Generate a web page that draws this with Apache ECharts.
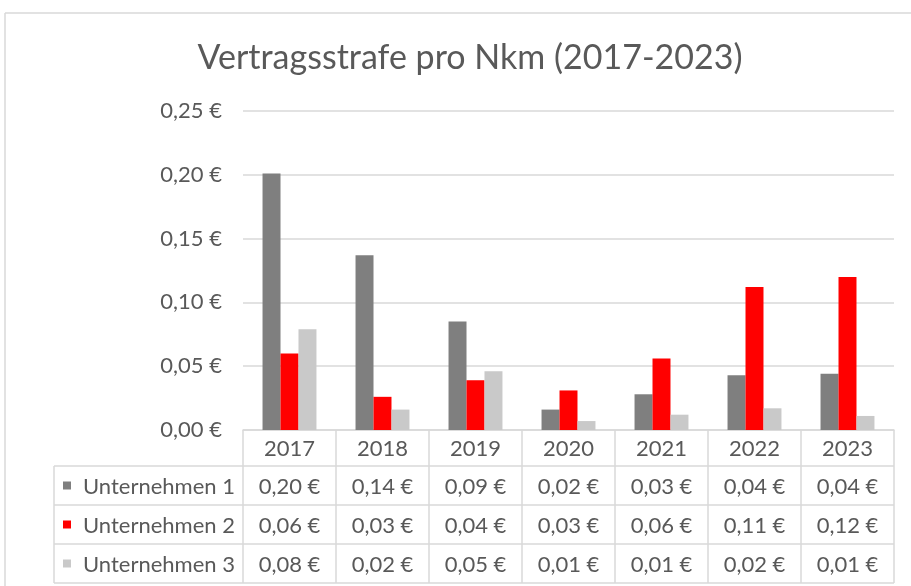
<!DOCTYPE html>
<html>
<head>
<meta charset="utf-8">
<script src="https://cdn.jsdelivr.net/npm/echarts@6/dist/echarts.min.js"></script>
<style>
    html, body {margin: 0; padding: 0; background: #fff;}
    #main {width: 911px; height: 586px;}
</style>
</head>
<body>
<div id="main"></div>
<script>
// data
const years = ['2017', '2018', '2019', '2020', '2021', '2022', '2023'];
const names = ['Unternehmen 1', 'Unternehmen 2', 'Unternehmen 3'];
const u1 = [0.201, 0.137, 0.085, 0.016, 0.028, 0.043, 0.044];
const u2 = [0.060, 0.026, 0.039, 0.031, 0.056, 0.112, 0.120];
const u3 = [0.079, 0.016, 0.046, 0.007, 0.012, 0.017, 0.011];
const colors = ['#7f7f7f', '#ff0000', '#c9c9c9'];

const FONT = 'Lato, "Liberation Sans", sans-serif';
const TXT = '#595959';
const LINE = '#d9d9d9';

const euro = v => v.toFixed(2).replace('.', ',') + ' €';

let chart = echarts.init(document.getElementById('main'));

const seriesData = [u1, u2, u3];

chart.setOption({
    animation: false,
    title: {
        text: 'Vertragsstrafe pro Nkm (2017-2023)', left: 465, top: 36, textAlign: 'center',
        textStyle: {fontFamily: FONT, fontSize: 34, fontWeight: 'normal', color: TXT}
    },
    grid: {left: 243, right: 17, top: 111, bottom: 156},
    xAxis: {
        type: 'category', data: years,
        axisLine: {lineStyle: {color: LINE, width: 1.5}},
        axisTick: {show: false},
        axisLabel: {show: false}
    },
    yAxis: {
        type: 'value', min: 0, max: 0.25, interval: 0.05,
        axisLine: {show: false}, axisTick: {show: false},
        splitLine: {lineStyle: {color: LINE, width: 1.5}},
        axisLabel: {
            formatter: euro, margin: 21,
            fontFamily: FONT, fontSize: 22, color: TXT
        }
    },
    series: names.map((n, i) => ({
        name: n, type: 'bar', data: seriesData[i],
        barGap: 0, barCategoryGap: '42%',
        itemStyle: {color: colors[i]}
    }))
});

// data table below the plot, drawn from the same arrays
function drawTable() {
    const half = (chart.convertToPixel({xAxisIndex: 0}, years[1]) - chart.convertToPixel({xAxisIndex: 0}, years[0])) / 2;
    const x0 = chart.convertToPixel({xAxisIndex: 0}, years[0]) - half;
    const xEnd = chart.convertToPixel({xAxisIndex: 0}, years[years.length - 1]) + half;
    const yTop = chart.convertToPixel({yAxisIndex: 0}, 0);
    const headH = 36, rowH = 39, leftX = 54;
    const yRows = yTop + headH;
    const yBottom = yRows + rowH * names.length;
    let els = [];
    const ln = (x1, y1, x2, y2) => els.push({
        type: 'line', shape: {x1: x1, y1: y1, x2: x2, y2: y2},
        style: {stroke: LINE, lineWidth: 1.5}
    });
    // vertical lines
    for (let i = 0; i <= years.length; i++) {
        let x = x0 + i * half * 2;
        ln(x, yTop, x, yBottom);
    }
    ln(leftX, yRows, leftX, yBottom);
    // horizontal lines
    for (let r = 0; r <= names.length; r++) {
        ln(leftX, yRows + r * rowH, xEnd, yRows + r * rowH);
    }
    // header years
    years.forEach((y, i) => {
        els.push({
            type: 'text', x: chart.convertToPixel({xAxisIndex: 0}, y), y: yTop + headH / 2 + 1,
            style: {text: y, font: '22px ' + FONT, fill: TXT, align: 'center', verticalAlign: 'middle'}
        });
    });
    // rows
    names.forEach((n, r) => {
        let cy = yRows + r * rowH + rowH / 2 + 1;
        els.push({
            type: 'rect', shape: {x: 63, y: cy - 5, width: 8, height: 8},
            style: {fill: colors[r]}
        });
        els.push({
            type: 'text', x: 83, y: cy,
            style: {text: n, font: '22px ' + FONT, fill: TXT, align: 'left', verticalAlign: 'middle'}
        });
        seriesData[r].forEach((v, i) => {
            els.push({
                type: 'text', x: chart.convertToPixel({xAxisIndex: 0}, years[i]), y: cy,
                style: {text: euro(v), font: '22px ' + FONT, fill: TXT, align: 'center', verticalAlign: 'middle'}
            });
        });
    });
    // outer chart border (cropped at right and bottom)
    ln(5, 13, 911, 13);
    ln(5, 13, 5, 586);
    chart.setOption({graphic: els});
}

drawTable();
</script>
</body>
</html>
